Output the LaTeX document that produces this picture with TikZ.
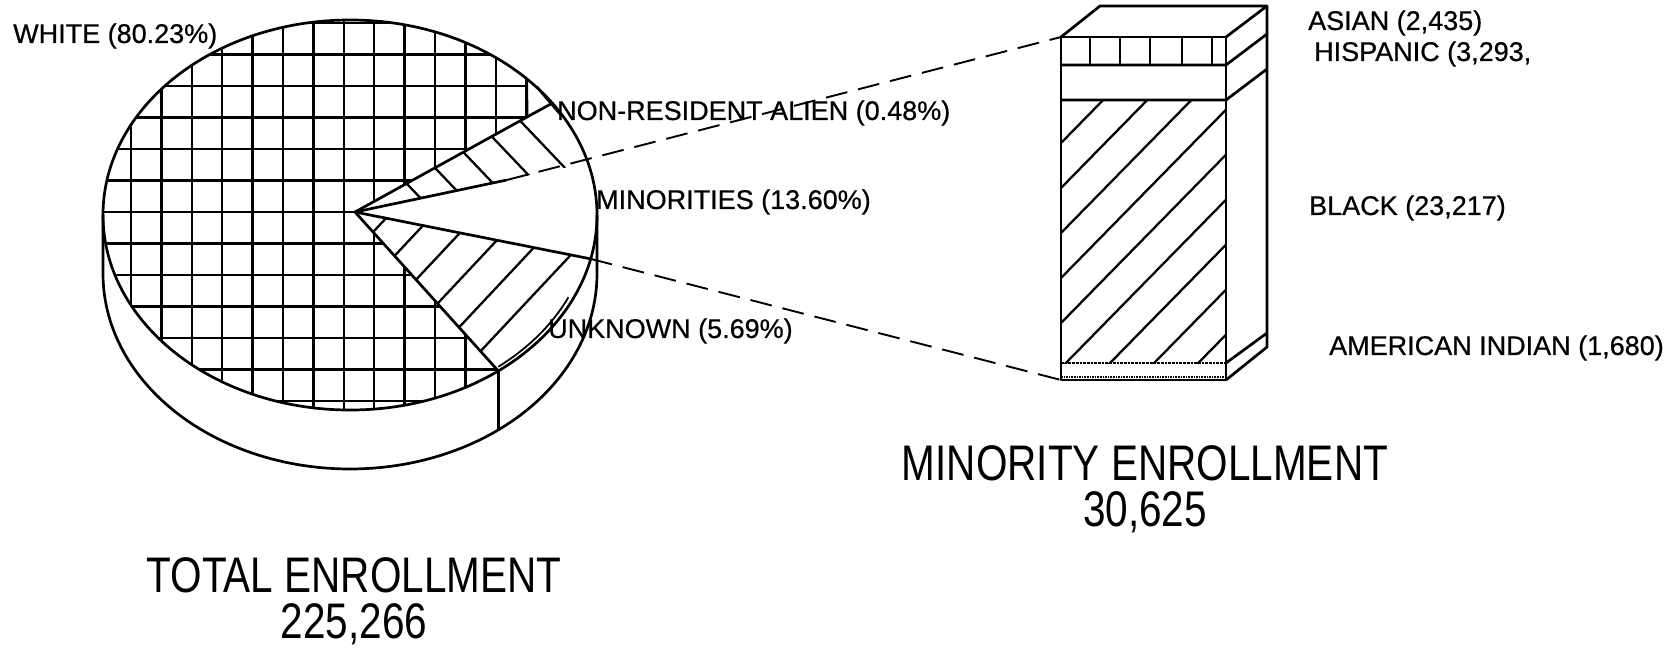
\documentclass[tikz,border=0pt]{standalone}
\usepackage{fontspec}
\setmainfont{Liberation Sans}
\newfontfamily\labelfont[FakeBold=0.6]{Liberation Sans}
\newfontfamily\titlefont[FakeStretch=0.81]{Liberation Sans}
\usetikzlibrary{calc}

\begin{document}
\begin{tikzpicture}[x=1pt,y=-1pt,line join=round,node distance=46pt,
                thick line/.style={line width=2.7pt},
                grid line/.style={line width=2.3pt},
                guide line/.style={line width=1.9pt,dash pattern=on 22pt off 11pt},
                pie label/.style={anchor=west,inner sep=0pt,font=\labelfont\fontsize{27}{30}\selectfont},
                title label/.style={inner sep=0pt,text height=36pt,text depth=0pt,
                                    font=\titlefont\fontsize{50}{60}\selectfont}]
	\useasboundingbox (0,0) rectangle (1679,651);

	% pie corners
	\coordinate (apex) at (355,212);
	\coordinate (c0) at ({350+247*cos(44.3)},{215-195*sin(44.3)});
	\coordinate (c1) at (527,117);
	\coordinate (e1) at ({350+247*cos(35)},{215-195*sin(35)});
	\coordinate (e2) at ({350+247*cos(15.5)},{215-195*sin(15.5)});
	\coordinate (e3) at ({350+247*cos(-13)},{215-195*sin(-13)});
	\coordinate (e4) at ({350+247*cos(-53.1)},{215-195*sin(-53.1)});
	\coordinate (m2) at ($(apex)!0.65!(e2)$);
	\coordinate (nr1) at (537,87);
	\coordinate (nr2) at (561,115);

	% bar corners
	\coordinate (ftl) at (1061,37);
	\coordinate (ftr) at (1226,37);
	\coordinate (fbl) at (1061,380);
	\coordinate (fbr) at (1226,380);
	\coordinate (btl) at (1100,6);
	\coordinate (btr) at (1267,6);
	\coordinate (bbr) at (1267,347);

	% white slice
	\begin{scope}
		\clip (apex) -- (c1) -- (c0) -- plot[domain=44.3:306.9,samples=90] ({350+247*cos(\x)},{215-195*sin(\x)}) -- cycle;
		\foreach \i in {-1,...,13}
			\draw[grid line] ({131+30.4*\i},0) -- ({131+30.4*\i},430);
		\foreach \j in {-6,...,6}
			\draw[grid line] (90,{212+31.5*\j}) -- (620,{212+31.5*\j});
	\end{scope}

	% upper hatched slice
	\begin{scope}
		\clip (apex) -- (c1) -- (e1) -- plot[domain=35:15.5,samples=20] ({350+247*cos(\x)},{215-195*sin(\x)}) -- cycle;
		\foreach \s in {0.30,0.465,0.63,0.795,0.96}
			\draw[grid line] ($(apex)!\s!(c1)$) -- ++(70,73.5);
	\end{scope}

	% lower hatched slice
	\begin{scope}
		\clip (apex) -- (e3) -- plot[domain=-13:-53.1,samples=30] ({350+247*cos(\x)},{215-195*sin(\x)}) -- cycle;
		\foreach \s in {0.126,0.276,0.426,0.576,0.726,0.876}
			\draw[grid line] ($(apex)!\s!(e4)$) -- ++(120,-128);
	\end{scope}

	% pie outline
	\draw[thick line] (350,215) ellipse [x radius=247pt,y radius=195pt];
	\draw[thick line] (103,215) -- (103,274)
		plot[domain=180:360,samples=90] ({350+247*cos(\x)},{274-195*sin(\x)}) -- (597,215);
	\draw[thick line] (e4) -- ++(0,59);
	\draw[line width=1.8pt] plot[domain=-52:-25,samples=20] ({350+241*cos(\x)},{217-190*sin(\x)});
	\draw[thick line] (apex) -- (c1) -- (c0);
	\draw[thick line] (c1) -- (e1);
	\draw[thick line] (nr1) -- (nr2);
	\draw[thick line] (apex) -- (e4);
	\draw[thick line] (apex) -- (e3);
	\draw[thick line] (apex) -- (m2);

	% bar
	\draw[thick line] (ftl) rectangle (fbr);
	\draw[thick line] (ftl) -- (btl) -- (btr) -- (ftr);
	\draw[thick line] (btr) -- (bbr) -- (fbr);
	\draw[thick line] (1061,65) -- (1226,65) -- ++(41,-31);
	\draw[thick line] (1061,100) -- (1226,100) -- ++(41,-31);
	\draw[thick line,densely dotted] (1061,363) -- (1226,363);
	\draw[thick line] (1226,363) -- ++(41,-30);
	\draw[line width=1.6pt,densely dotted] (1061,377) -- (1226,377);
	\foreach \x in {1090,1120,1150,1182,1212}
		\draw[grid line] (\x,37) -- (\x,65);
	\begin{scope}
		\clip (1061,100) rectangle (1226,363);
		\foreach \k in {-1,...,8}
			\draw[grid line] (1061,{143+45*\k}) -- ++(200,-204);
	\end{scope}

	% guide lines
	\draw[guide line] (m2) -- (ftl);
	\draw[guide line] (e3) -- (fbl);

	% labels
	\node[pie label] (white) at (13,36) {WHITE (80.23\%)};
	\node[pie label] (nonres) at (557,113) {NON-RESIDENT ALIEN (0.48\%)};
	\node[pie label] (minor) at (596,202) {MINORITIES (13.60\%)};
	\node[pie label] (unknown) at (548,331) {UNKNOWN (5.69\%)};
	\node[pie label] (asian) at (1308,23) {ASIAN (2,435)};
	\node[pie label] (hisp) at (1314,54) {HISPANIC (3,293,};
	\node[pie label] (black) at (1309,208) {BLACK (23,217)};
	\node[pie label] (amind) at (1329,348) {AMERICAN INDIAN (1,680)};

	\node[title label] (total) at (354,574) {TOTAL ENROLLMENT};
	\node[title label] (totalnum) [below of = total] {225,266};
	\node[title label] (minortot) at (1145,462) {MINORITY ENROLLMENT};
	\node[title label] (minornum) [below of = minortot] {30,625};

\end{tikzpicture}
\end{document}
